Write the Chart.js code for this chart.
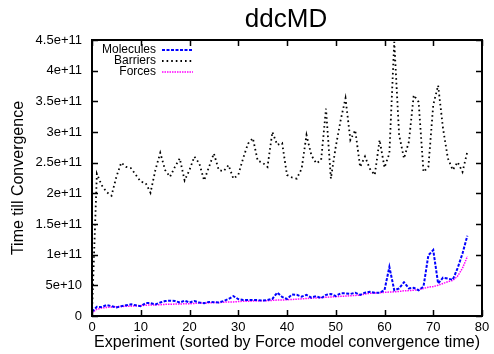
<!DOCTYPE html>
<html>
<head>
<meta charset="utf-8">
<script src="https://cdn.jsdelivr.net/npm/chart.js@4/dist/chart.umd.min.js"></script>
<style>
  html, body { margin: 0; padding: 0; background: #fff; }
  #wrap { width: 494px; height: 354px; }
</style>
</head>
<body>
<div id="wrap"><canvas id="c" width="494" height="354"></canvas></div>
<script>
// ---- data (values in units of 1e10) ----
const UNIT = 1e10;
const experiments = Array.from({length: 78}, (_, i) => i);
const molecules = [0.7,1.5,1.45,1.8,1.6,1.4,1.6,1.75,1.9,1.75,1.6,2.1,2.1,1.9,2.2,2.45,2.5,2.45,2.2,2.5,
  2.2,2.45,2.2,2.1,2.3,2.25,2.2,2.45,2.77,3.25,2.75,2.6,2.6,2.6,2.6,2.5,2.6,2.8,3.8,3.1,
  2.77,3.5,3.45,3.15,3.45,3.0,3.25,2.9,3.45,3.6,3.25,3.7,3.7,3.6,3.8,3.45,3.8,3.95,3.8,3.8,
  4.2,8.0,4.2,4.5,5.5,4.5,4.6,4.2,4.8,9.9,10.75,5.3,6.25,6.1,5.9,7.8,10.2,13.1];
const barriers = [0.5,23.2,21.3,20.2,19.6,22.7,25.0,24.3,24.1,23.0,21.9,21.7,20.1,23.8,26.6,23.8,22.7,24.3,25.7,22.1,
  23.8,26.0,24.9,22.1,24.3,26.5,23.8,23.6,24.6,22.4,23.0,25.7,28.1,29.0,25.3,25.0,24.3,30.0,27.9,28.2,
  23.0,22.6,22.4,24.0,29.5,26.2,24.9,25.4,33.8,22.4,27.6,31.9,35.5,28.7,30.3,24.3,26.0,24.0,23.0,28.7,
  24.2,26.5,44.7,29.5,25.7,28.4,36.0,34.9,23.5,24.3,34.4,37.6,30.6,25.7,23.8,25.1,23.5,26.8];
const forces = [0.5,1.1,1.3,1.4,1.45,1.5,1.55,1.6,1.6,1.65,1.7,1.75,1.8,1.8,1.85,1.9,1.9,1.95,1.95,2.0,
  2.0,2.05,2.1,2.1,2.15,2.2,2.2,2.25,2.3,2.3,2.35,2.4,2.4,2.45,2.45,2.5,2.5,2.55,2.6,2.6,
  2.65,2.7,2.75,2.8,2.85,2.9,2.95,3.0,3.05,3.1,3.15,3.2,3.25,3.3,3.35,3.4,3.6,3.7,3.75,3.8,
  3.85,3.9,3.95,4.0,4.1,4.15,4.2,4.3,4.5,4.7,4.8,5.0,5.3,5.6,5.8,6.5,7.8,9.7];
const seriesNames = ["Molecules", "Barriers", "Forces"];
const titleText = "ddcMD";
const xTitle = "Experiment (sorted by Force model convergence time)";
const yTitle = "Time till Convergence";

function toPoints(arr) { return arr.map((v, i) => ({x: experiments[i], y: v * UNIT})); }

function fmtSci(v) {
  if (v === 0) return "0";
  const e = Math.floor(Math.log10(v) + 1e-9);
  const m = Math.round(v / Math.pow(10, e) * 100) / 100;
  return m + "e+" + e;
}

const FONT = "'Liberation Sans', Arial, Helvetica, sans-serif";

const framePlugin = {
  id: 'frame',
  afterDraw(chart) {
    const {ctx, chartArea: a, scales} = chart;
    ctx.save();
    // title
    ctx.fillStyle = '#000';
    ctx.font = "26px " + FONT;
    ctx.textAlign = 'center';
    ctx.textBaseline = 'middle';
    ctx.fillText(titleText, (a.left + a.right) / 2 - 1, 20);
    // ticks inward
    ctx.strokeStyle = '#000';
    ctx.lineWidth = 1.5;
    const tl = 6;
    scales.x.ticks.forEach(t => {
      const x = Math.round(scales.x.getPixelForValue(t.value)) + 0.5;
      ctx.beginPath();
      ctx.moveTo(x, a.bottom); ctx.lineTo(x, a.bottom - tl);
      ctx.moveTo(x, a.top); ctx.lineTo(x, a.top + tl);
      ctx.stroke();
    });
    scales.y.ticks.forEach(t => {
      const y = Math.round(scales.y.getPixelForValue(t.value)) + 0.5;
      ctx.beginPath();
      ctx.moveTo(a.left, y); ctx.lineTo(a.left + tl, y);
      ctx.moveTo(a.right, y); ctx.lineTo(a.right - tl, y);
      ctx.stroke();
    });
    // border
    ctx.lineWidth = 2;
    ctx.strokeRect(a.left, a.top, a.right - a.left, a.bottom - a.top);
    // legend
    ctx.font = "12px " + FONT;
    ctx.textAlign = 'right';
    ctx.textBaseline = 'middle';
    chart.data.datasets.forEach((ds, i) => {
      const y = a.top + 10 + i * 11;
      ctx.fillStyle = '#000';
      ctx.fillText(ds.label, a.left + 64, y);
      ctx.strokeStyle = ds.borderColor;
      ctx.lineWidth = ds.borderWidth;
      ctx.setLineDash(ds.borderDash);
      ctx.beginPath();
      ctx.moveTo(a.left + 70, y); ctx.lineTo(a.left + 101, y);
      ctx.stroke();
      ctx.setLineDash([]);
    });
    ctx.restore();
  }
};

new Chart(document.getElementById('c'), {
  type: 'line',
  data: {
    datasets: [
      { label: seriesNames[0], data: toPoints(molecules), borderColor: '#0000ff', borderWidth: 2, borderDash: [3, 1.5], pointRadius: 0, tension: 0 },
      { label: seriesNames[1], data: toPoints(barriers), borderColor: '#000000', borderWidth: 1.8, borderDash: [1.6, 3], pointRadius: 0, tension: 0 },
      { label: seriesNames[2], data: toPoints(forces), borderColor: '#ff00ff', borderWidth: 1.5, borderDash: [1.5, 1], pointRadius: 0, tension: 0 }
    ]
  },
  options: {
    responsive: false,
    animation: false,
    layout: { padding: { top: 40, right: 12, left: 0, bottom: 0 } },
    plugins: { legend: { display: false }, title: { display: false }, tooltip: { enabled: false } },
    scales: {
      x: {
        type: 'linear', min: 0, max: 80,
        grid: { display: false, drawTicks: false },
        border: { display: false },
        ticks: { stepSize: 10, color: '#000', font: { size: 13, family: FONT }, padding: 4, maxRotation: 0 },
        title: { display: true, text: xTitle, color: '#000', font: { size: 16, family: FONT }, padding: { top: 0, bottom: 2 } },
        afterFit(s) { s.height = 38; }
      },
      y: {
        min: 0, max: 4.5e11,
        grid: { display: false, drawTicks: false },
        border: { display: false },
        ticks: { stepSize: 5e10, color: '#000', font: { size: 13, family: FONT }, padding: 10, callback: (v) => fmtSci(v) },
        title: { display: true, text: yTitle, color: '#000', font: { size: 16, family: FONT }, padding: { top: 9, bottom: 0 } },
        afterFit(s) { s.width = 92; }
      }
    }
  },
  plugins: [framePlugin]
});
</script>
</body>
</html>
